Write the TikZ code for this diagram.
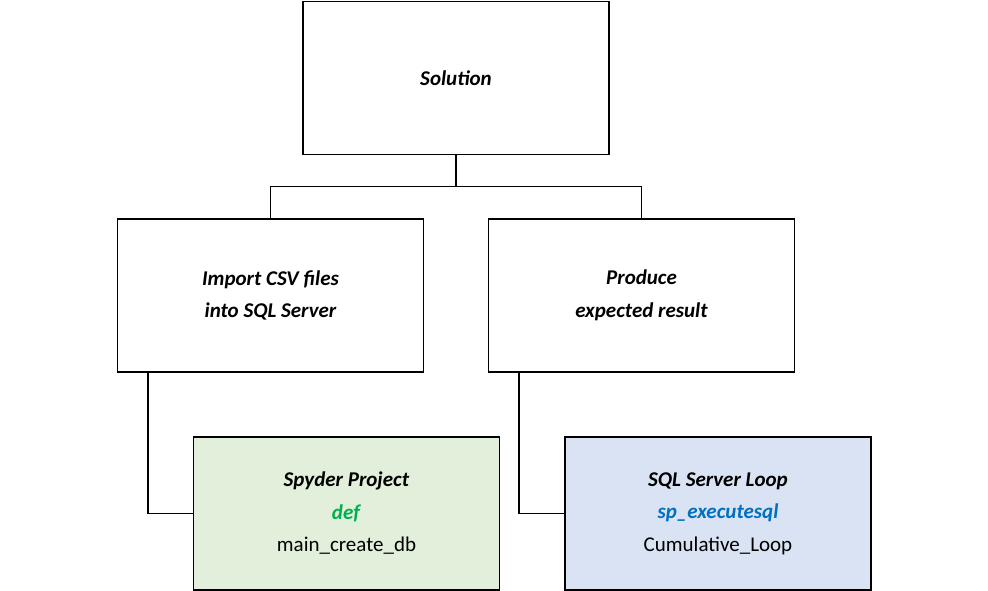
\documentclass[tikz,border=0pt]{standalone}
\usepackage{fontspec}
\setmainfont{Carlito}
\usetikzlibrary{positioning}
\definecolor{leafgreen}{HTML}{E2EFDA}
\definecolor{leafblue}{HTML}{DAE3F3}
\definecolor{defgreen}{HTML}{00B050}
\definecolor{sqlblue}{HTML}{0070C0}
\tikzset{
        x=1pt, y=-1pt, % pixel-like units, y grows downwards
        every node/.style={font=\fontsize{21}{32.5}\selectfont},
        box/.style={draw, line width=1.5pt, minimum width=306pt, minimum height=153pt, align=center, font=\fontsize{21}{32.5}\selectfont\bfseries\itshape}, % sets the look of each block
        leaf/.style={box, font=\fontsize{21}{32.5}\selectfont}, % the coloured blocks at the bottom
        link/.style={line width=1.5pt}, % connector lines
        }
\begin{document}
\begin{tikzpicture}
        \useasboundingbox (0,0) rectangle (988,591);
        % blocks
        \node[box] (Solution) at (456,78) {Solution};
        \node[box] (Import) at (270.5,295.5) {Import CSV files\\into SQL Server};
        \node[box] (Produce) at (641.5,295.5) {Produce\\expected result};
        \node[leaf, fill=leafgreen] (Spyder) at (346.5,513.5) {\textbf{\textit{Spyder Project}}\\\textcolor{defgreen}{\textbf{\textit{def}}}\\main\_create\_db};
        \node[leaf, fill=leafblue] (Loop) at (718,513.5) {\textbf{\textit{SQL Server Loop}}\\\textcolor{sqlblue}{\textbf{\textit{sp\_executesql}}}\\Cumulative\_Loop};

        % connectors
        \coordinate[below=31pt of Solution.south] (hub);
        \draw[link] (Solution.south) -- (hub);
        \draw[link] (Import.north) |- (hub) -| (Produce.north);
        \draw[link] ([xshift=31pt]Import.south west) |- (Spyder.west);
        \draw[link] ([xshift=31pt]Produce.south west) |- (Loop.west);
\end{tikzpicture}
\end{document}
